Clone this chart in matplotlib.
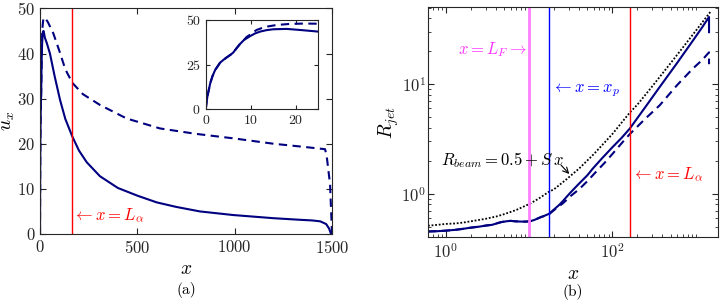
import numpy as np
import matplotlib
matplotlib.use('Agg')
import matplotlib.pyplot as plt
from matplotlib.ticker import LogLocator, NullFormatter, FixedLocator

plt.rcParams['mathtext.fontset'] = 'cm'
plt.rcParams['font.family'] = 'serif'
plt.rcParams['font.serif'] = ['cmr10', 'DejaVu Serif']
plt.rcParams['axes.formatter.use_mathtext'] = True
plt.rcParams['axes.unicode_minus'] = False

NAVY = '#000080'
AXC = '#262626'

# --- panel (a): axial velocity u_x vs x
ux_x_solid = [0, 0.2, 0.4, 0.7, 1.0, 1.5, 2.1, 3.2, 4.0, 4.7, 5.5, 6.1, 6.8, 7.6, 8.5, 9.9,
              11, 12.1, 13.5, 15, 18, 21, 25, 35, 51, 75, 103, 130, 166, 200, 240, 308,
              400, 500, 600, 700, 822, 993, 1200, 1335, 1400, 1440, 1470, 1485, 1495]
ux_solid = [0, 4, 7.5, 11, 14.5, 18.5, 22, 26.1, 27.8, 29.1, 30.5, 31.7, 34, 36.5, 38.8, 41,
            42.5, 43.5, 44.3, 44.8, 45, 44.4, 43.5, 42.3, 40, 35, 29.7, 25.5, 21.6, 18.5, 15.9, 12.8,
            10.2, 8.5, 7.0, 6.0, 5.0, 4.2, 3.5, 3.15, 3.0, 2.8, 2.2, 1.2, 0]
ux_x_dash = [0, 0.2, 0.4, 0.7, 1.0, 1.5, 2.1, 3.2, 4.0, 4.7, 5.5, 6.1, 6.8, 7.6, 8.5, 9.1,
             10, 11.3, 12.5, 13.6, 15.8, 18.7, 22, 25, 40, 68, 100, 130, 166, 220, 308,
             445, 616, 800, 993, 1200, 1335, 1464, 1472, 1490, 1500]
ux_dash = [0, 4, 7.5, 11, 14.5, 18.5, 22, 26.1, 27.8, 29.1, 30.5, 31.7, 34, 36.5, 38.8, 40.5,
           42, 44.4, 45.5, 46.3, 47.2, 47.8, 48, 47.9, 47.0, 44.5, 40.5, 36.5, 33.5, 31, 28.6,
           25.6, 23.4, 22.2, 21.2, 20.0, 19.4, 18.8, 17.5, 11, 0]
L_alpha = 163

# --- panel (b): jet radius vs x (log-log)
rj_x_solid = [0.61, 0.8, 1.0, 1.3, 1.61, 2.0, 2.5, 3.08, 3.6, 4.06, 4.6, 5.35, 6.0, 6.8, 7.7,
              9.0, 10.2, 11.5, 13.4, 15, 17.4, 20, 23, 25.6, 28, 32, 40, 50, 58, 75, 100, 130, 162,
              250, 370, 600, 930, 1200, 1450, 1450]
rj_solid = [0.452, 0.455, 0.46, 0.468, 0.478, 0.49, 0.50, 0.513, 0.52, 0.535, 0.55, 0.56, 0.565,
            0.56, 0.557, 0.556, 0.56, 0.575, 0.605, 0.625, 0.656, 0.72, 0.79, 0.86, 0.93, 1.04, 1.24,
            1.47, 1.69, 2.1, 2.65, 3.25, 3.93, 6.2, 9.4, 15.6, 25, 33, 41, 29.8]
rj_x_dash = [0.61, 0.8, 1.0, 1.3, 1.61, 2.0, 2.5, 3.08, 3.6, 4.06, 4.6, 5.35, 6.0, 6.8, 7.7,
             9.0, 10.2, 11.5, 13.4, 15, 17.4, 20, 23, 25.6, 32, 40, 50, 62, 80, 100, 130, 162,
             250, 370, 600, 930, 1200, 1450, 1450]
rj_dash = [0.452, 0.455, 0.46, 0.468, 0.478, 0.49, 0.50, 0.513, 0.52, 0.535, 0.55, 0.56, 0.565,
           0.56, 0.557, 0.556, 0.56, 0.575, 0.605, 0.625, 0.65, 0.71, 0.77, 0.82, 0.96, 1.1, 1.3,
           1.55, 1.9, 2.3, 2.9, 3.5, 4.85, 6.4, 9.8, 13.9, 16.6, 19.5, 15.2]
rb_x = [0.61, 0.8, 1.0, 1.3, 1.61, 2.0, 3.0, 4.06, 5.0, 7.0, 10.2, 13, 16.9, 20, 28, 40, 60,
        100, 162, 200, 300, 500, 700, 1000, 1500]
rb = [0.51, 0.52, 0.53, 0.535, 0.545, 0.56, 0.59, 0.62, 0.65, 0.71, 0.81, 0.9, 1.03, 1.1, 1.35,
      1.7, 2.3, 3.5, 5.5, 6.5, 9.5, 15.5, 21.5, 30.5, 45.5]
L_F = 10.0
x_p = 17.4


def style(ax, size=11):
    ax.tick_params(which='both', direction='in', top=True, right=True,
                   colors=AXC, labelsize=size, labelcolor=AXC)
    ax.tick_params(which='major', length=4)
    ax.tick_params(which='minor', length=2)
    for s in ax.spines.values():
        s.set_color(AXC)
        s.set_linewidth(0.8)


fig = plt.figure(figsize=(7.21, 3.0), dpi=100)

# (a)
ax1 = fig.add_axes([0.0555, 0.22, 0.405, 0.752])
ax1.plot(ux_x_solid, ux_solid, color=NAVY, lw=1.5)
ax1.plot(ux_x_dash, ux_dash, color=NAVY, lw=1.5, dashes=(4, 2.6))
ax1.axvline(L_alpha, color='red', lw=1)
ax1.text(L_alpha + 8, 4, r'$\leftarrow x = L_\alpha$', color='red', fontsize=12, va='center')
ax1.set_xlim(0, 1500)
ax1.set_ylim(0, 50)
ax1.set_xticks([0, 500, 1000, 1500])
ax1.set_yticks([0, 10, 20, 30, 40, 50])
ax1.set_xlabel(r'$x$', fontsize=14, labelpad=3)
ax1.set_ylabel(r'$u_x$', fontsize=14, labelpad=0)
style(ax1, 12)
ax1.text(0.5, -0.25, '(a)', transform=ax1.transAxes, ha='center', va='center', fontsize=11)

# inset
axi = fig.add_axes([0.2853, 0.6357, 0.156, 0.2977])
axi.plot(ux_x_solid, ux_solid, color=NAVY, lw=1.5)
axi.plot(ux_x_dash, ux_dash, color=NAVY, lw=1.5, dashes=(4, 2.6))
axi.set_xlim(0, 25)
axi.set_ylim(0, 50)
axi.set_xticks([0, 10, 20])
axi.set_yticks([0, 25, 50])
style(axi, 10)
axi.tick_params(which='major', length=3)

# (b)
ax2 = fig.add_axes([0.5936, 0.209, 0.402, 0.769])
ax2.plot(rb_x, rb, color='black', lw=1.3, ls=(0, (1, 1)))
ax2.plot(rj_x_solid, rj_solid, color=NAVY, lw=1.5)
ax2.plot(rj_x_dash, rj_dash, color=NAVY, lw=1.5, dashes=(4, 2.6))
ax2.axvline(L_F, color='#ff80ff', lw=2)
ax2.axvline(x_p, color='blue', lw=1)
ax2.axvline(L_alpha, color='red', lw=1)
ax2.set_xscale('log')
ax2.set_yscale('log')
ax2.set_xlim(0.61, 1850)
ax2.set_ylim(0.4, 51)
ax2.xaxis.set_major_locator(FixedLocator([1, 100]))
ax2.xaxis.set_minor_locator(LogLocator(base=10, subs=np.arange(1, 10), numticks=20))
ax2.xaxis.set_minor_formatter(NullFormatter())
ax2.set_xticklabels([r'$10^{0}$', r'$10^{2}$'])
ax2.yaxis.set_major_locator(FixedLocator([1, 10]))
ax2.yaxis.set_minor_locator(LogLocator(base=10, subs=np.arange(2, 10), numticks=20))
ax2.yaxis.set_minor_formatter(NullFormatter())
ax2.set_yticklabels([r'$10^{0}$', r'$10^{1}$'])
ax2.set_xlabel(r'$x$', fontsize=14, labelpad=3)
style(ax2, 12)
ax2.tick_params(axis='y', which='major', pad=1.5)
ax2.set_ylabel(r'$R_{jet}$', fontsize=14, labelpad=0)
ax2.text(9.4, 20.5, r'$x = L_F \rightarrow$', color='#ff33ff', fontsize=12, ha='right', va='center')
ax2.text(18.6, 8.8, r'$\leftarrow x = x_p$', color='blue', fontsize=12, ha='left', va='center')
ax2.text(172, 1.47, r'$\leftarrow x = L_\alpha$', color='red', fontsize=12, ha='left', va='center')
ax2.text(0.87, 2.02, r'$R_{beam} = 0.5 + S\,x$', color='black', fontsize=12, ha='left', va='center')
ax2.annotate('', xy=(32, 1.45), xytext=(23, 1.9),
             arrowprops=dict(arrowstyle='->', color='black', lw=0.8))
ax2.text(0.5, -0.235, '(b)', transform=ax2.transAxes, ha='center', va='center', fontsize=11)

fig.savefig('out.png', dpi=100)
